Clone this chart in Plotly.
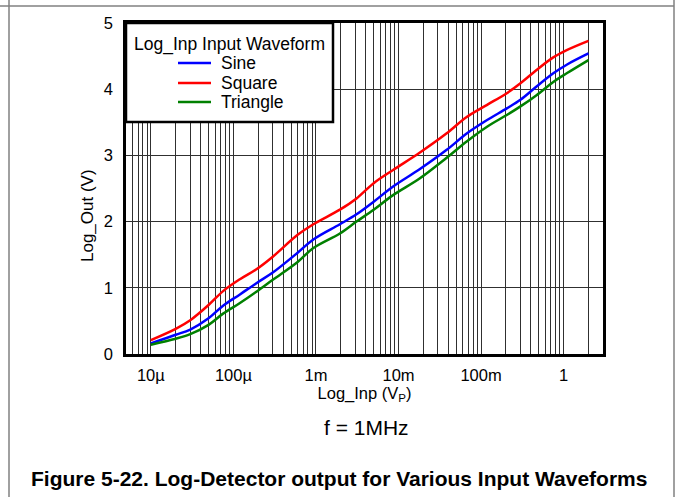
import plotly.graph_objects as go

# ---- data ----
log_inp = [1e-5, 2e-5, 3e-5, 5e-5, 7.5e-5, 1.2e-4, 1.9e-4, 3e-4, 6e-4, 9.3e-4,
           1.95e-3, 3.1e-3, 5e-3, 8.6e-3, 1.8e-2, 3.8e-2, 6.7e-2, 0.117, 0.205,
           0.3, 0.47, 0.75, 1.09, 2.0]
sine = [0.16, 0.29, 0.37, 0.54, 0.73, 0.90, 1.07, 1.23, 1.53, 1.73,
        1.96, 2.11, 2.30, 2.53, 2.79, 3.08, 3.33, 3.53, 3.71,
        3.84, 4.04, 4.24, 4.37, 4.54]
square = [0.21, 0.38, 0.51, 0.74, 0.95, 1.13, 1.28, 1.47, 1.80, 1.96,
          2.18, 2.35, 2.58, 2.78, 3.04, 3.33, 3.58, 3.76, 3.94,
          4.09, 4.29, 4.48, 4.59, 4.73]
triangle = [0.14, 0.23, 0.30, 0.44, 0.61, 0.77, 0.94, 1.12, 1.39, 1.60,
            1.82, 2.00, 2.18, 2.40, 2.65, 2.96, 3.21, 3.43, 3.61,
            3.74, 3.91, 4.11, 4.24, 4.44]

series_names = ["Sine", "Square", "Triangle"]
series_colors = ["#0000FF", "#FF0000", "#008000"]
legend_title = "Log_Inp Input Waveform"

decade_vals = [1e-5, 1e-4, 1e-3, 1e-2, 1e-1, 1]
decade_text = ["10\u00b5", "100\u00b5", "1m", "10m", "100m", "1"]
y_ticks = [0, 1, 2, 3, 4, 5]

x_min, x_max = 5e-6, 3.0

# all 1..9 x 10^n grid positions inside the range
grid_vals = []
for e in range(-6, 1):
    for m in range(1, 10):
        v = m * 10 ** e
        if x_min * 0.999 <= v <= x_max * 1.001:
            grid_vals.append(v)
grid_text = []
for v in grid_vals:
    lab = ""
    for dv, dt in zip(decade_vals, decade_text):
        if abs(v - dv) / dv < 1e-6:
            lab = dt
    grid_text.append(lab)

FONT = "Liberation Sans, Arial, sans-serif"

fig = go.Figure()
for name, ys, col in zip(series_names, [sine, square, triangle], series_colors):
    fig.add_trace(go.Scatter(x=log_inp, y=ys, name=name, mode="lines",
                             line=dict(color=col, width=2.5, shape="spline", smoothing=1.0)))

L, R, T, B = 126, 73, 23, 143
W, H = 676, 497
pw, ph = W - L - R, H - T - B


def px(xp):
    return (xp - L) / pw


def py(yp):
    return (H - B - yp) / ph


fig.update_layout(
    width=W, height=H,
    margin=dict(l=L, r=R, t=T, b=B, pad=0),
    paper_bgcolor="white", plot_bgcolor="white",
    font=dict(family=FONT, size=16, color="black"),
    showlegend=False,
    xaxis=dict(type="log", range=[-5.30103, 0.4771213],
               tickvals=grid_vals, ticktext=grid_text,
               showgrid=True, gridcolor="#303030", gridwidth=1,
               showline=True, linecolor="black", linewidth=2.5, mirror=True,
               ticks="", ticklen=0, ticklabelstandoff=4,
               tickfont=dict(family=FONT, size=16.5),
               zeroline=False,
               title=dict(text="Log_Inp (V<sub>P</sub>)", standoff=0,
                          font=dict(family=FONT, size=16.5))),
    yaxis=dict(range=[0, 5], tickvals=y_ticks,
               showgrid=True, gridcolor="#303030", gridwidth=1,
               showline=True, linecolor="black", linewidth=2.5, mirror=True,
               ticks="", ticklen=0, ticklabelstandoff=7, zeroline=False,
               tickfont=dict(family=FONT, size=16.5)),
)

# y-axis title (placed like the reference, slightly below the centre)
fig.add_annotation(xref="paper", yref="paper", x=px(88), y=py(216),
                   text="Log_Out (V)", showarrow=False, textangle=-90,
                   font=dict(family=FONT, size=17, color="black"),
                   xanchor="center", yanchor="middle")

# legend box, title, entries
fig.add_shape(type="rect", xref="paper", yref="paper",
              x0=0, x1=px(333), y0=py(122), y1=1,
              line=dict(color="black", width=2.5), fillcolor="white", layer="above")
fig.add_annotation(xref="paper", yref="paper", x=px(229.5), y=py(44),
                   text=legend_title, showarrow=False,
                   font=dict(family=FONT, size=17.5, color="black"),
                   xanchor="center", yanchor="middle")
entry_y = [63, 83, 102]
for name, col, ey in zip(series_names, series_colors, entry_y):
    fig.add_shape(type="line", xref="paper", yref="paper",
                  x0=px(178), x1=px(211), y0=py(ey), y1=py(ey),
                  line=dict(color=col, width=2.5), layer="above")
    fig.add_annotation(xref="paper", yref="paper", x=px(219), y=py(ey),
                       text=name, showarrow=False,
                       font=dict(family=FONT, size=17.5, color="black"),
                       xanchor="left", yanchor="middle")

# frequency note
fig.add_annotation(xref="paper", yref="paper", x=px(366), y=py(427),
                   text="f = 1MHz", showarrow=False,
                   font=dict(family=FONT, size=21, color="black"),
                   xanchor="center", yanchor="middle")
# figure caption
fig.add_annotation(xref="paper", yref="paper", x=px(339), y=py(478),
                   text="<b>Figure 5-22. Log-Detector output for Various Input Waveforms</b>",
                   showarrow=False,
                   font=dict(family=FONT, size=21, color="black"),
                   xanchor="center", yanchor="middle")

# outer page frame (table cell borders)
frame = dict(color="#808080", width=1.5)
fig.add_shape(type="line", xref="paper", yref="paper",
              x0=px(0), x1=px(674), y0=py(6), y1=py(6), line=frame)
fig.add_shape(type="line", xref="paper", yref="paper",
              x0=px(9), x1=px(9), y0=py(0), y1=py(497), line=frame)
fig.add_shape(type="line", xref="paper", yref="paper",
              x0=px(674), x1=px(674), y0=py(0), y1=py(497), line=frame)

fig.write_html("out.html")
